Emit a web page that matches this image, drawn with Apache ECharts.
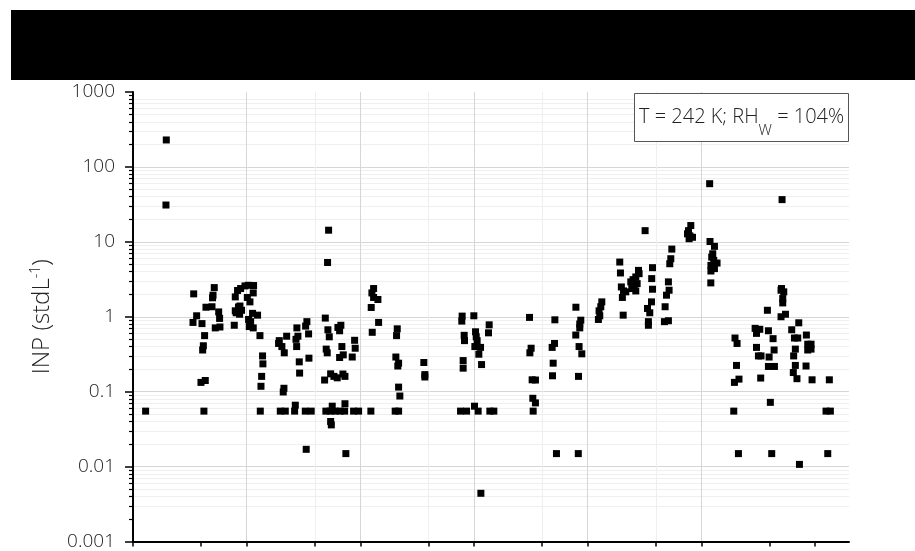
<!DOCTYPE html>
<html><head><meta charset="utf-8">
<script src="https://cdn.jsdelivr.net/npm/echarts@6/dist/echarts.min.js"></script>
<style>html,body{margin:0;padding:0;background:#fff}#c{width:915px;height:551px}</style>
</head><body><div id="c"></div>
<script>
// sample time (days from axis start) and INP concentration (stdL^-1)
const sampleDays = [
  0.111, 0.293, 0.290,
  0.534, 0.715, 0.704, 0.700, 0.642, 0.695, 0.754, 0.762, 0.560, 0.528, 0.607, 0.724, 0.765, 0.630, 0.619, 0.613, 0.598, 0.636, 0.624,
  0.900, 0.947, 0.985, 1.014, 1.061, 1.058, 1.006, 1.029, 0.941, 0.900, 0.938, 1.052, 1.096, 1.017, 1.035, 1.023, 1.058, 0.891, 1.117, 1.140, 1.143, 1.132, 1.126, 1.120, 0.920, 0.928, 0.908, 0.955,
  1.287, 1.281, 1.310, 1.352, 1.331, 1.442, 1.451, 1.434, 1.440, 1.519, 1.530, 1.545, 1.463, 1.548, 1.466, 1.328, 1.322, 1.296, 1.340, 1.428, 1.422, 1.516, 1.568, 1.524,
  1.721, 1.712, 1.692, 1.715, 1.727, 1.700, 1.709, 1.686, 1.739, 1.768, 1.797, 1.847, 1.865, 1.803, 1.829, 1.818, 1.838, 1.850, 1.818, 1.950, 1.955, 1.929, 1.697, 1.735, 1.779, 1.823, 1.862, 1.753, 1.865, 1.739, 1.745, 1.941, 1.985, 1.873,
  2.117, 2.102, 2.117, 2.155, 2.096, 2.161, 2.105, 2.325, 2.319, 2.313, 2.337, 2.330, 2.337, 2.348, 2.093, 2.307, 2.337,
  2.559, 2.568, 2.568,
  2.896, 2.893, 2.999, 2.914, 2.917, 3.014, 3.020, 3.028, 3.008, 3.058, 3.043, 3.134, 3.128, 2.905, 2.905, 3.067, 2.882, 2.935, 3.005, 3.037, 3.140, 3.175, 3.061,
  3.489, 3.503, 3.492, 3.512, 3.541, 3.518, 3.541, 3.521,
  3.712, 3.709, 3.688, 3.697, 3.691, 3.726, 3.897, 3.940, 3.931, 3.931, 3.896, 3.925, 3.949, 3.920, 3.918,
  4.125, 4.116, 4.101, 4.107, 4.095,
  4.283, 4.289, 4.297, 4.316, 4.336, 4.306, 4.313, 4.380, 4.400, 4.424, 4.448, 4.409, 4.424, 4.436, 4.453, 4.389,
  4.506, 4.571, 4.564, 4.571, 4.562, 4.527, 4.547, 4.535, 4.535,
  4.741, 4.732, 4.723, 4.711, 4.717, 4.694, 4.682, 4.711, 4.676,
  4.908, 4.888, 4.879, 4.923, 4.893, 4.900,
  5.074, 5.077, 5.116, 5.101, 5.092, 5.110, 5.139, 5.085, 5.116, 5.085, 5.084,
  5.297, 5.315, 5.310, 5.332, 5.292, 5.286, 5.327,
  5.474, 5.515, 5.486, 5.591, 5.632, 5.486, 5.503, 5.526, 5.641, 5.597, 5.591, 5.644, 5.523, 5.608, 5.620, 5.582,
  5.711, 5.702, 5.726, 5.717, 5.717, 5.706, 5.741, 5.702, 5.858, 5.796, 5.820, 5.849, 5.925, 5.937, 5.966, 5.937, 5.966, 5.828, 5.813, 5.828, 5.922, 5.810, 5.842, 5.975, 5.864,
  6.127, 6.098, 6.136, 6.113
];
const inpValues = [
  0.055, 229, 31,
  2.02, 2.45, 1.94, 1.79, 1.34, 1.36, 1.16, 0.95, 1.03, 0.84, 0.81, 0.71, 0.73, 0.56, 0.41, 0.36, 0.133, 0.141, 0.055,
  1.84, 2.38, 2.58, 2.63, 2.61, 2.08, 1.81, 1.58, 1.39, 1.20, 1.08, 1.11, 1.05, 0.92, 0.86, 0.74, 0.71, 0.77, 0.56, 0.30, 0.235, 0.16, 0.118, 0.055, 2.24, 1.35, 1.13, 1.22,
  0.48, 0.44, 0.40, 0.55, 0.33, 0.71, 0.55, 0.50, 0.40, 0.75, 0.86, 0.59, 0.25, 0.28, 0.177, 0.111, 0.099, 0.055, 0.055, 0.066, 0.055, 0.055, 0.055, 0.017,
  14.3, 5.3, 0.96, 0.67, 0.54, 0.37, 0.33, 0.143, 0.173, 0.16, 0.153, 0.172, 0.16, 0.72, 0.77, 0.65, 0.40, 0.31, 0.286, 0.485, 0.38, 0.29, 0.055, 0.055, 0.055, 0.055, 0.055, 0.064, 0.069, 0.040, 0.036, 0.055, 0.055, 0.0149,
  2.38, 2.08, 1.81, 1.70, 1.33, 0.84, 0.62, 0.69, 0.56, 0.29, 0.24, 0.22, 0.115, 0.0875, 0.055, 0.055, 0.055,
  0.245, 0.169, 0.157,
  1.02, 0.875, 1.03, 0.565, 0.48, 0.63, 0.54, 0.48, 0.40, 0.39, 0.316, 0.78, 0.61, 0.26, 0.206, 0.23, 0.055, 0.055, 0.064, 0.055, 0.055, 0.055, 0.0044,
  0.98, 0.38, 0.33, 0.144, 0.143, 0.0816, 0.0708, 0.055,
  0.91, 0.44, 0.39, 0.24, 0.163, 0.0149, 1.34, 0.90, 0.80, 0.71, 0.57, 0.40, 0.32, 0.16, 0.0149,
  1.58, 1.36, 1.20, 1.03, 0.92,
  5.37, 3.84, 2.50, 2.21, 2.15, 1.81, 1.05, 2.92, 3.13, 3.40, 4.16, 2.63, 2.21, 2.77, 3.76, 2.38,
  14.1, 4.52, 3.23, 2.33, 1.58, 1.29, 1.13, 0.86, 0.77,
  8.0, 5.95, 5.1, 2.92, 2.26, 1.94, 1.36, 0.885, 0.86,
  16.5, 14.1, 12.8, 11.5, 11.0, 12.0,
  59.7, 10.1, 8.7, 6.93, 6.25, 5.65, 5.21, 4.85, 4.39, 4.08, 2.83,
  0.52, 0.44, 0.224, 0.147, 0.133, 0.055, 0.0149,
  0.70, 0.68, 0.60, 0.65, 0.51, 0.39, 0.30, 0.30, 0.36, 0.29, 0.217, 0.217, 0.152, 0.072, 0.0149, 1.22,
  36.6, 2.26, 2.15, 1.75, 1.53, 2.38, 1.08, 1.00, 0.83, 0.67, 0.52, 0.52, 0.57, 0.43, 0.43, 0.36, 0.37, 0.37, 0.30, 0.224, 0.22, 0.18, 0.149, 0.144, 0.0107,
  0.144, 0.055, 0.055, 0.0149
];
const majorDayTicks = [0, 1, 2, 3, 4, 5, 6];
const minorDayTicks = [0.6, 1.6, 2.6, 3.6, 4.6, 5.6];
const yTickLabels = ['0.001', '0.01', '0.1', '1', '10', '100', '1000'];
const decades = [0.001, 0.01, 0.1, 1, 10, 100];
const minorMultipliers = [2, 3, 4, 5, 6, 7, 8, 9];
const annotation = { main: 'T = 242 K; RH', sub: 'W', tail: ' = 104%' };

const minorInpTicks = [];
decades.forEach(d => minorMultipliers.forEach(m => minorInpTicks.push(+(d * m).toPrecision(3))));

const FONT = '"Open Sans", "Noto Sans", sans-serif';
const points = sampleDays.map((d, i) => [d, inpValues[i]]);

const chart = echarts.init(document.getElementById('c'), null, { renderer: 'canvas' });
chart.setOption({
  animation: false,
  backgroundColor: '#fff',
  grid: { left: 133, right: 66, top: 92, bottom: 7, containLabel: false },
  xAxis: [
    {
      type: 'value', min: 0, max: 6.3,
      axisLine: { show: true, onZero: false, lineStyle: { color: '#000', width: 2 } },
      axisTick: { show: true, customValues: majorDayTicks, length: 5, lineStyle: { color: '#000', width: 1.5 } },
      axisLabel: { show: false },
      splitLine: { show: true, showMinLine: false, showMaxLine: false, lineStyle: { color: '#d6d6d6', width: 1 } }
    },
    {
      type: 'value', min: 0, max: 6.3, position: 'bottom',
      axisLine: { show: false },
      axisTick: { show: true, customValues: minorDayTicks, length: 5, lineStyle: { color: '#000', width: 1.5 } },
      axisLabel: { show: false },
      splitLine: { show: true, showMinLine: false, showMaxLine: false, lineStyle: { color: '#efefef', width: 1 } }
    }
  ],
  yAxis: [
    {
      type: 'log', logBase: 10, min: 0.001, max: 1000,
      axisLine: { show: true, onZero: false, lineStyle: { color: '#000', width: 2 } },
      axisTick: { show: true, length: 8, lineStyle: { color: '#000', width: 1.5 } },
      axisLabel: {
        show: true, fontSize: 19, fontFamily: FONT, fontWeight: 300, color: '#222', margin: 18,
        formatter: v => { const i = Math.round(Math.log10(v)) + 3; return yTickLabels[i] || ''; }
      },
      splitLine: { show: true, showMinLine: false, showMaxLine: false, lineStyle: { color: '#d6d6d6', width: 1 } },
      name: 'INP (stdL{sup|-1})',
      nameLocation: 'middle', nameGap: 78, nameRotate: 90,
      nameTextStyle: {
        fontSize: 24, fontFamily: FONT, fontWeight: 300, color: '#222', lineHeight: 26,
        rich: { sup: { fontSize: 14, fontFamily: FONT, fontWeight: 300, color: '#222', verticalAlign: 'top', lineHeight: 14 } }
      }
    },
    {
      type: 'log', logBase: 10, min: 0.001, max: 1000, position: 'left',
      axisLine: { show: false },
      axisTick: { show: true, customValues: minorInpTicks, length: 4, lineStyle: { color: '#000', width: 1.2 } },
      axisLabel: { show: false },
      splitLine: { show: true, showMinLine: false, showMaxLine: false, lineStyle: { color: '#efefef', width: 1 } }
    }
  ],
  series: [{
    type: 'scatter', xAxisIndex: 0, yAxisIndex: 0, z: 5,
    symbol: 'rect', symbolSize: 7,
    itemStyle: { color: '#000', opacity: 1 },
    data: points
  }],
  graphic: [
    { type: 'rect', shape: { x: 11, y: 10, width: 904, height: 70 }, style: { fill: '#000' }, z: 10 },
    { type: 'rect', shape: { x: 634.5, y: 93.5, width: 214, height: 48 }, style: { fill: '#fff', stroke: '#555', lineWidth: 1 }, z: 10 },
    {
      type: 'text', x: 639, y: 117, z: 11,
      style: {
        text: '{a|' + annotation.main + '}{s|' + annotation.sub + '}{a|' + annotation.tail + '}',
        verticalAlign: 'middle', align: 'left',
        rich: {
          a: { fontSize: 20, fontFamily: FONT, fontWeight: 300, fill: '#222', lineHeight: 42, verticalAlign: 'middle' },
          s: { fontSize: 15, fontFamily: FONT, fontWeight: 300, fill: '#222', lineHeight: 15, verticalAlign: 'bottom' }
        }
      }
    }
  ]
});
</script></body></html>
